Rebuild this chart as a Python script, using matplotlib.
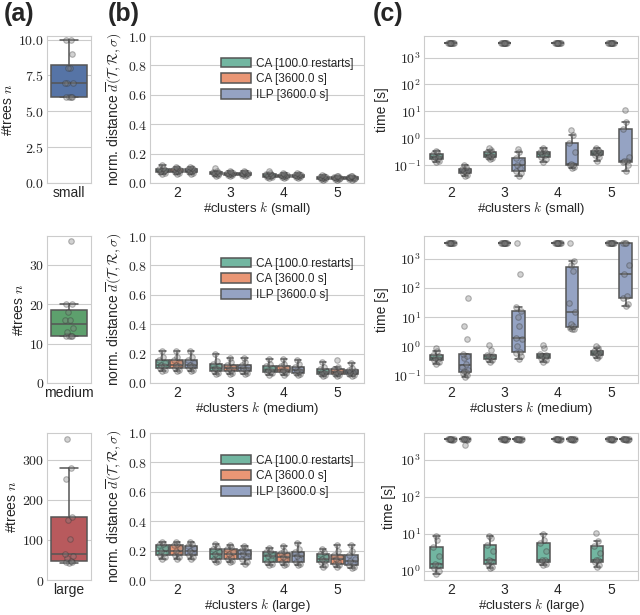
import numpy as np
import matplotlib
matplotlib.use('Agg')
import matplotlib.pyplot as plt
import seaborn as sns
from matplotlib.ticker import FuncFormatter, LogLocator, NullLocator, MultipleLocator

sns.set_style('whitegrid')
plt.rcParams['font.family'] = ['Liberation Sans', 'DejaVu Sans']
plt.rcParams['mathtext.fontset'] = 'cm'

# ---- data ----
sizes = ['small', 'medium', 'large']
ks = [2, 3, 4, 5]
methods = ['CA [100.0 restarts]', 'CA [3600.0 s]', 'ILP [3600.0 s]']

trees_small = [6, 6, 6, 6, 7, 7, 7, 8, 8, 9, 10, 10]
trees_medium = [12, 12, 12, 12, 13, 14, 16, 16, 18, 20, 20, 36]
trees_large = [42, 45, 46, 48, 55, 60, 66, 103, 150, 158, 252, 280, 352]

# normalized distance, one list per k (2..5)
dist_small_ca = [[0.06, 0.07, 0.075, 0.08, 0.085, 0.09, 0.095, 0.1, 0.12],
                 [0.05, 0.055, 0.058, 0.062, 0.065, 0.068, 0.072, 0.08, 0.1],
                 [0.035, 0.04, 0.043, 0.047, 0.05, 0.053, 0.058, 0.065, 0.085],
                 [0.02, 0.025, 0.028, 0.032, 0.035, 0.038, 0.042, 0.048, 0.055]]
dist_small_ca3600 = [[0.06, 0.068, 0.075, 0.08, 0.085, 0.09, 0.095, 0.1, 0.11],
                     [0.05, 0.053, 0.057, 0.061, 0.064, 0.067, 0.071, 0.076, 0.08],
                     [0.036, 0.04, 0.043, 0.047, 0.05, 0.053, 0.057, 0.062, 0.066],
                     [0.02, 0.024, 0.028, 0.031, 0.034, 0.037, 0.041, 0.046, 0.05]]
dist_small_ilp = [[0.06, 0.068, 0.075, 0.08, 0.085, 0.09, 0.095, 0.1, 0.11],
                  [0.05, 0.054, 0.057, 0.061, 0.064, 0.067, 0.071, 0.075, 0.08],
                  [0.036, 0.04, 0.044, 0.047, 0.05, 0.053, 0.057, 0.061, 0.066],
                  [0.02, 0.024, 0.028, 0.031, 0.034, 0.037, 0.041, 0.046, 0.05]]

dist_medium_ca = [[0.08, 0.09, 0.1, 0.115, 0.125, 0.135, 0.155, 0.18, 0.22],
                  [0.06, 0.07, 0.08, 0.095, 0.105, 0.115, 0.13, 0.15, 0.2],
                  [0.055, 0.065, 0.075, 0.085, 0.09, 0.1, 0.115, 0.13, 0.16],
                  [0.045, 0.055, 0.06, 0.07, 0.075, 0.085, 0.095, 0.11, 0.14]]
dist_medium_ca3600 = [[0.08, 0.09, 0.1, 0.115, 0.125, 0.135, 0.155, 0.18, 0.22],
                      [0.06, 0.07, 0.08, 0.09, 0.1, 0.11, 0.125, 0.14, 0.17],
                      [0.055, 0.065, 0.072, 0.082, 0.09, 0.1, 0.115, 0.13, 0.16],
                      [0.045, 0.052, 0.058, 0.065, 0.072, 0.08, 0.092, 0.11, 0.155]]
dist_medium_ilp = [[0.08, 0.09, 0.1, 0.115, 0.125, 0.135, 0.155, 0.18, 0.22],
                   [0.06, 0.07, 0.08, 0.09, 0.1, 0.11, 0.125, 0.14, 0.17],
                   [0.055, 0.062, 0.07, 0.08, 0.088, 0.097, 0.11, 0.13, 0.155],
                   [0.045, 0.052, 0.058, 0.065, 0.072, 0.08, 0.09, 0.1, 0.135]]

dist_large_ca = [[0.14, 0.155, 0.17, 0.185, 0.2, 0.215, 0.235, 0.245, 0.26],
                 [0.12, 0.13, 0.14, 0.16, 0.18, 0.19, 0.21, 0.225, 0.245],
                 [0.1, 0.11, 0.125, 0.14, 0.16, 0.17, 0.19, 0.2, 0.215],
                 [0.09, 0.1, 0.12, 0.13, 0.145, 0.155, 0.175, 0.19, 0.21]]
dist_large_ca3600 = [[0.14, 0.155, 0.17, 0.185, 0.2, 0.215, 0.235, 0.245, 0.26],
                     [0.12, 0.13, 0.14, 0.155, 0.175, 0.19, 0.21, 0.225, 0.24],
                     [0.1, 0.11, 0.12, 0.14, 0.155, 0.17, 0.185, 0.2, 0.23],
                     [0.09, 0.1, 0.11, 0.125, 0.14, 0.155, 0.17, 0.2, 0.235]]
dist_large_ilp = [[0.14, 0.155, 0.17, 0.185, 0.2, 0.215, 0.23, 0.245, 0.26],
                  [0.11, 0.125, 0.14, 0.155, 0.175, 0.185, 0.205, 0.22, 0.23],
                  [0.1, 0.11, 0.12, 0.14, 0.16, 0.175, 0.19, 0.21, 0.25],
                  [0.08, 0.09, 0.1, 0.115, 0.13, 0.145, 0.17, 0.2, 0.24]]

# running time [s], one list per k (2..5)
time_small_ca = [[0.13, 0.15, 0.17, 0.19, 0.21, 0.23, 0.27, 0.3, 0.35],
                 [0.17, 0.19, 0.21, 0.23, 0.25, 0.27, 0.3, 0.38, 0.45],
                 [0.13, 0.17, 0.21, 0.24, 0.26, 0.28, 0.32, 0.38, 0.45],
                 [0.15, 0.2, 0.24, 0.26, 0.28, 0.3, 0.33, 0.38, 0.45]]
time_small_ca3600 = [[3598, 3599, 3600, 3600, 3600, 3601, 3601, 3602, 3603],
                     [3598, 3599, 3600, 3600, 3600, 3601, 3601, 3602, 3603],
                     [3598, 3599, 3600, 3600, 3600, 3601, 3601, 3602, 3603],
                     [3598, 3599, 3600, 3600, 3600, 3601, 3601, 3602, 3603]]
time_small_ilp = [[0.04, 0.045, 0.05, 0.055, 0.06, 0.065, 0.07, 0.085, 0.1],
                  [0.04, 0.05, 0.06, 0.08, 0.1, 0.13, 0.18, 0.3, 0.4],
                  [0.08, 0.09, 0.1, 0.105, 0.11, 0.3, 0.7, 1.3, 2.0],
                  [0.06, 0.1, 0.13, 0.14, 0.15, 0.2, 2.2, 4.0, 11.0]]

time_medium_ca = [[0.25, 0.3, 0.35, 0.38, 0.4, 0.45, 0.5, 0.7, 0.9],
                  [0.3, 0.35, 0.38, 0.42, 0.45, 0.48, 0.5, 0.75, 1.1],
                  [0.3, 0.35, 0.4, 0.44, 0.47, 0.5, 0.55, 0.9, 1.1],
                  [0.4, 0.45, 0.5, 0.55, 0.6, 0.65, 0.7, 0.85, 1.0]]
time_medium_ca3600 = [[3598, 3599, 3600, 3600, 3600, 3601, 3601, 3602, 3603],
                      [3598, 3599, 3600, 3600, 3600, 3601, 3601, 3602, 3603],
                      [3598, 3599, 3600, 3600, 3600, 3601, 3601, 3602, 3603],
                      [3598, 3599, 3600, 3600, 3600, 3601, 3601, 3602, 3603]]
time_medium_ilp = [[0.09, 0.1, 0.12, 0.13, 0.14, 0.16, 0.2, 0.25, 0.4, 0.45, 0.55, 1.8, 5.0, 45.0],
                   [0.38, 0.45, 0.6, 0.65, 1.0, 1.8, 2.0, 5.0, 10.0, 17.0, 22.0, 300, 3600],
                   [3.8, 4.0, 4.2, 5.0, 6.0, 15, 30, 400, 650, 850, 3600],
                   [25, 28, 45, 55, 300, 650, 3600, 3600, 3600]]

time_large_ca = [[0.8, 1.0, 1.2, 1.4, 1.5, 2.5, 4.5, 7.0, 8.5],
                 [1.2, 1.3, 1.5, 1.8, 2.0, 3.5, 5.0, 7.5, 9.0],
                 [1.4, 1.5, 1.7, 1.9, 2.0, 3.5, 5.5, 7.0, 10.0],
                 [1.3, 1.4, 1.7, 1.9, 2.0, 3.0, 4.8, 6.5, 10.5]]
time_large_ca3600 = [[3598, 3599, 3600, 3600, 3600, 3601, 3601, 3602, 3603],
                     [3598, 3599, 3600, 3600, 3600, 3601, 3601, 3602, 3603],
                     [3598, 3599, 3600, 3600, 3600, 3601, 3601, 3602, 3603],
                     [3598, 3599, 3600, 3600, 3600, 3601, 3601, 3602, 3603]]
time_large_ilp = [[2500, 3599, 3600, 3600, 3600, 3601, 3601, 3602, 3603],
                  [3598, 3599, 3600, 3600, 3600, 3601, 3601, 3602, 3603],
                  [3598, 3599, 3600, 3600, 3600, 3601, 3601, 3602, 3603],
                  [3598, 3599, 3600, 3600, 3600, 3601, 3601, 3602, 3603]]

trees = [trees_small, trees_medium, trees_large]
dist = [[dist_small_ca, dist_small_ca3600, dist_small_ilp],
        [dist_medium_ca, dist_medium_ca3600, dist_medium_ilp],
        [dist_large_ca, dist_large_ca3600, dist_large_ilp]]
times = [[time_small_ca, time_small_ca3600, time_small_ilp],
         [time_medium_ca, time_medium_ca3600, time_medium_ilp],
         [time_large_ca, time_large_ca3600, time_large_ilp]]

# ---- style ----
deep = sns.color_palette('deep')
size_colors = [sns.desaturate(c, 0.8) for c in (deep[0], deep[2], deep[3])]
hue_colors = [sns.desaturate(c, 0.75) for c in sns.color_palette('Set2')[:3]]
edge = '#555555'
lw = 1.1
pat = np.array([0.0, 0.55, -0.55, 0.3, -0.3, 0.8, -0.8, 0.15, -0.15, 0.65, -0.65, 0.4, -0.4, 0.9])


def draw_box(ax, pos, vals, color, width, jit):
    ax.boxplot([vals], positions=[pos], widths=width, patch_artist=True,
               showfliers=False, manage_ticks=False,
               boxprops=dict(facecolor=color, edgecolor=edge, linewidth=lw),
               medianprops=dict(color=edge, linewidth=lw),
               whiskerprops=dict(color=edge, linewidth=lw),
               capprops=dict(color=edge, linewidth=lw))
    ax.plot(pos + pat[:len(vals)] * jit, vals, 'o', ms=4, mfc='grey', mec='#333333',
            mew=0.8, alpha=0.35, zorder=4)


def math_fmt(fmt):
    return FuncFormatter(lambda v, p: '$' + fmt.format(v) + '$')


log_fmt = FuncFormatter(lambda v, p: '$10^{%d}$' % int(round(np.log10(v))))

fig = plt.figure(figsize=(6.4, 6.15), dpi=100)
W, H = 640.0, 615.0
row_bottom = [183, 383, 580]
row_h = 147
a_ylim = [(0, 10.25), (0, 37.3), (0, 367)]
a_step = [2.5, 10, 100]
a_fmt = ['{:.1f}', '{:.0f}', '{:.0f}']
c_ylim = [(0.022, 6300), (0.055, 6200), (0.56, 5400)]

for r in range(3):
    y0 = 1 - row_bottom[r] / H
    h = row_h / H
    ax_a = fig.add_axes([47 / W, y0, 44 / W, h])
    ax_b = fig.add_axes([150 / W, y0, 214 / W, h])
    ax_c = fig.add_axes([424 / W, y0, 214 / W, h])

    # (a) number of trees
    draw_box(ax_a, 0, trees[r], size_colors[r], 0.8, 0.12)
    ax_a.set_xlim(-0.5, 0.5)
    ax_a.set_ylim(*a_ylim[r])
    ax_a.yaxis.set_major_locator(MultipleLocator(a_step[r]))
    ax_a.yaxis.set_major_formatter(math_fmt(a_fmt[r]))
    ax_a.set_xticks([0])
    ax_a.set_xticklabels([sizes[r]])
    ax_a.set_ylabel('#trees $n$', fontsize=10, labelpad=2)
    ax_a.xaxis.grid(False)

    # (b) distance, (c) time
    for ax, vals in ((ax_b, dist[r]), (ax_c, times[r])):
        for m in range(3):
            for i in range(len(ks)):
                draw_box(ax, i + (m - 1) * 0.267, vals[m][i], hue_colors[m], 0.235, 0.07)
        ax.set_xlim(-0.5, len(ks) - 0.5)
        ax.set_xticks(range(len(ks)))
        ax.set_xticklabels([str(k) for k in ks])
        ax.set_xlabel('#clusters $k$ (%s)' % sizes[r], fontsize=9.5, labelpad=0.5)
        ax.xaxis.grid(False)

    ax_b.set_ylim(0, 1.0)
    ax_b.yaxis.set_major_locator(MultipleLocator(0.2))
    ax_b.yaxis.set_major_formatter(math_fmt('{:.1f}'))
    ax_b.set_ylabel(r'norm. distance $\overline{d}(\mathcal{T},\mathcal{R},\sigma)$',
                    fontsize=10, labelpad=3)
    handles = [plt.Rectangle((0, 0), 1, 1, facecolor=c, edgecolor=edge, linewidth=lw)
               for c in hue_colors]
    ax_b.legend(handles, methods, loc='upper right', bbox_to_anchor=(0.975, 0.885),
                borderaxespad=0, frameon=False, fontsize=8.5, handlelength=2.5,
                handleheight=0.9, labelspacing=0.3, handletextpad=0.5)

    ax_c.set_yscale('log')
    ax_c.set_ylim(*c_ylim[r])
    ax_c.yaxis.set_major_locator(LogLocator(base=10, numticks=10))
    ax_c.yaxis.set_minor_locator(NullLocator())
    ax_c.yaxis.set_major_formatter(log_fmt)
    ax_c.set_ylabel('time [s]', fontsize=10, labelpad=3)

    for ax in (ax_a, ax_b, ax_c):
        ax.tick_params(axis='both', length=0)
        ax.tick_params(axis='y', labelsize=10, pad=2)
        ax.tick_params(axis='x', labelsize=10, pad=2)

for x, lab in ((4, '(a)'), (108, '(b)'), (373, '(c)')):
    fig.text(x / W, 1 - 14 / H, lab, fontsize=18, fontweight='bold', va='center', ha='left')

fig.savefig('out.png', dpi=100)
